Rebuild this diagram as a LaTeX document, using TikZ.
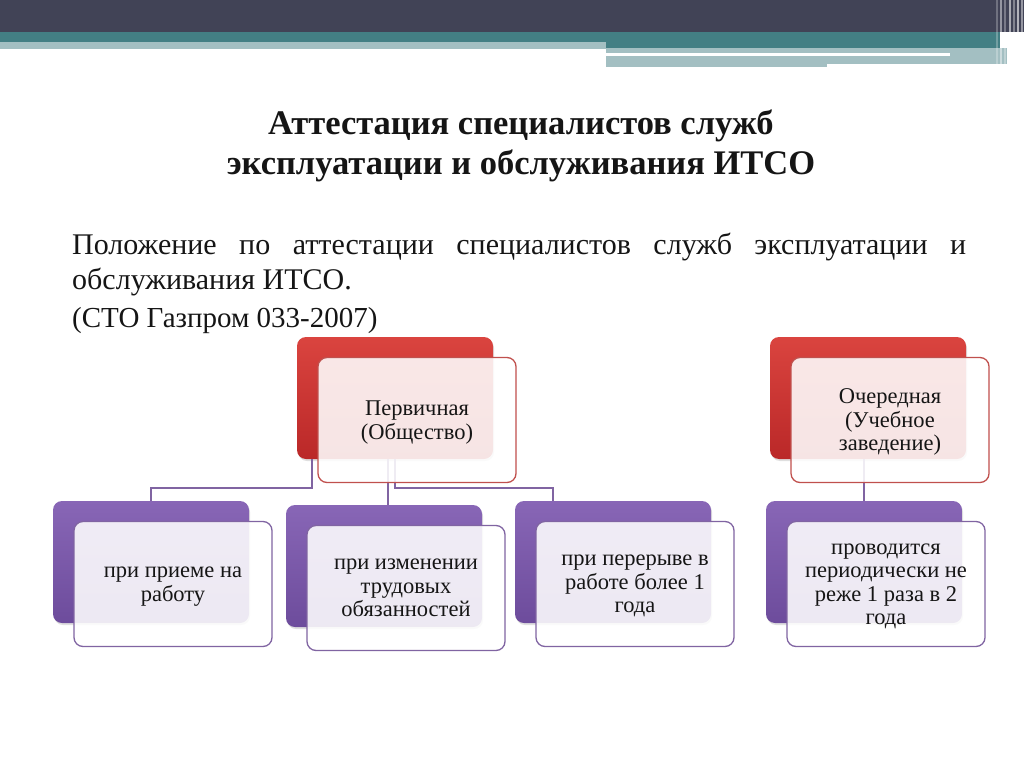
\documentclass[tikz,border=0pt]{standalone}
\usepackage{fontspec}
\setmainfont{Liberation Serif}
\usetikzlibrary{calc,positioning,shadows}
\definecolor{BarDark}{HTML}{414356}
\definecolor{BarTeal}{HTML}{437F84}
\definecolor{BarLight}{HTML}{A3BFC2}
\definecolor{RedTop}{HTML}{DA443F}
\definecolor{RedBottom}{HTML}{BA2828}
\definecolor{RedEdge}{HTML}{C0504D}
\definecolor{VioletTop}{HTML}{8866B6}
\definecolor{VioletBottom}{HTML}{6D4C9C}
\definecolor{VioletEdge}{HTML}{8064A2}
\definecolor{TextInk}{HTML}{151515}
\tikzset{
  every node/.style={text=TextInk},
  backbox/.style={rectangle, rounded corners=9pt, minimum width=196pt, minimum height=122pt,
    drop shadow={opacity=0.25, shadow xshift=1pt, shadow yshift=-2pt}},
  redback/.style={backbox, top color=RedTop, bottom color=RedBottom},
  violetback/.style={backbox, top color=VioletTop, bottom color=VioletBottom},
  frontbox/.style={rectangle, rounded corners=9pt, minimum width=198pt, minimum height=125pt,
    line width=1.3pt, fill=white, fill opacity=0.88, text opacity=1, align=center,
    font=\fontsize{22.5}{23.5}\selectfont, text depth=-13pt},
  redfront/.style={frontbox, draw=RedEdge},
  violetfront/.style={frontbox, draw=VioletEdge},
  link/.style={draw=VioletEdge, line width=2pt},
}

\begin{document}
\begin{tikzpicture}[x=1pt,y=-1pt]
  \useasboundingbox (0,0) rectangle (1024,767);
  % Header bars
  \fill[BarDark] (0,0) rectangle (1024,32);
  \fill[BarTeal] (0,32) rectangle (1000,48);
  \fill[BarLight] (0,42) rectangle (606,49);
  \fill[BarLight] (606,48) rectangle (1007,67);
  \fill[white] (606,53.5) rectangle (950,56.5);
  \fill[white] (827,64) rectangle (1007,67.5);
  \foreach \xx/\op in {996/0.25,1000/0.45,1004/0.3,1009/0.55,1013/0.35,1017/0.6,1021/0.45}
    \fill[white, opacity=\op] (\xx,0) rectangle ++(1.6,67);

  % Title
  \node[font=\bfseries\fontsize{34.5}{40}\selectfont, align=center] (title) at (521,146)
    {Аттестация специалистов служб\\эксплуатации и обслуживания ИТСО};
  % Document reference
  \node[anchor=north west, inner sep=0pt, text width=894pt, align=justify,
    font=\fontsize{30}{35}\selectfont] (polozh) at (72,233)
    {Положение по аттестации специалистов служб эксплуатации и\linebreak обслуживания ИТСО.};
  \node[anchor=north west, inner sep=0pt, font=\fontsize{29}{35}\selectfont] (sto) at (72,307)
    {(СТО Газпром 033-2007)};

  % Back boxes
  \node[redback] (pervB) at (395,398) {};
  \node[redback] (ocherB) at (868,398) {};
  \node[violetback] (pur1B) at (151,562) {};
  \node[violetback] (pur2B) at (384,566) {};
  \node[violetback] (pur3B) at (613,562) {};
  \node[violetback] (pur4B) at (864,562) {};

  % Connectors
  \draw[link] ([xshift=15pt]pervB.south west) -- ++(0,29) -| (pur1B.north);
  \draw[link] ([xshift=-7pt]pervB.south) -- ([xshift=-7pt]pervB.south |- pur2B.north);
  \draw[link] (pervB.south) -- ++(0,29) -| ([xshift=-60pt]pur3B.north);
  \draw[link] (ocherB.south -| pur4B.north) -- (pur4B.north);

  % Front boxes
  \node[redfront] (pervF) at ([shift={(22,22)}]pervB) {Первичная\\(Общество)};
  \node[redfront] (ocherF) at ([shift={(22,22)}]ocherB) {Очередная\\(Учебное\\заведение)};
  \node[violetfront] (pur1F) at ([shift={(22,22)}]pur1B) {при приеме на\\работу};
  \node[violetfront] (pur2F) at ([shift={(22,22)}]pur2B) {при изменении\\трудовых\\обязанностей};
  \node[violetfront] (pur3F) at ([shift={(22,22)}]pur3B) {при перерыве в\\работе более 1\\года};
  \node[violetfront] (pur4F) at ([shift={(22,22)}]pur4B) {проводится\\периодически не\\реже 1 раза в 2\\года};
\end{tikzpicture}
\end{document}
